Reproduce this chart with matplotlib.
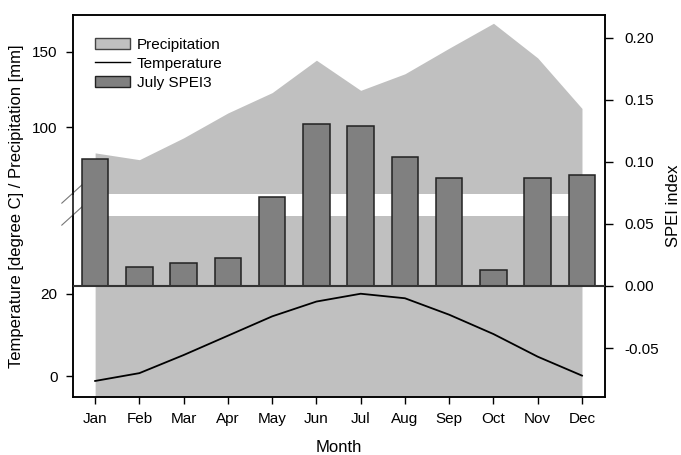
import numpy as np
import matplotlib
matplotlib.use('Agg')
import matplotlib.pyplot as plt
from matplotlib.patches import Patch
from matplotlib.lines import Line2D

plt.rcParams['font.family'] = ['Liberation Sans', 'DejaVu Sans']

# data
MONTHS = ['Jan', 'Feb', 'Mar', 'Apr', 'May', 'Jun',
          'Jul', 'Aug', 'Sep', 'Oct', 'Nov', 'Dec']
PRECIP = [83, 78.5, 93, 109.5, 123, 144.5, 124.5, 135.5, 152.5, 169, 146, 112.5]
TEMP = [-1.2, 0.7, 5.1, 9.8, 14.5, 18.1, 20.0, 18.9, 14.9, 10.2, 4.7, 0.1]
SPEI = [0.102, 0.0156, 0.0188, 0.0228, 0.072, 0.1304,
        0.129, 0.1043, 0.0869, 0.0129, 0.0871, 0.0898]

LEFT_TICKS = [0, 20, 100, 150]
RIGHT_TICKS = [-0.05, 0.0, 0.05, 0.10, 0.15, 0.20]

# broken left axis: lower part (temperature) and upper part (precipitation)
BRK_LO = 39.0     # top of lower segment
BRK_HI = 56.0     # bottom of upper segment
S_LO = 4.117      # px per unit, lower segment
S_HI = 1.508      # px per unit, upper segment
GAP = 22.0        # px of the white band
Y_MIN, Y_MAX = -5.1, 174.5
SPEI_MIN, SPEI_MAX = -0.0895, 0.2185

LIGHT = '#c0c0c0'
DARK = '#808080'
EDGE = '#222222'


def fwd(y):
    y = np.asarray(y, dtype=float)
    return np.where(y <= BRK_LO, (y - BRK_LO) * S_LO,
                    np.where(y >= BRK_HI, GAP + (y - BRK_HI) * S_HI,
                             (y - BRK_LO) / (BRK_HI - BRK_LO) * GAP))


def inv(v):
    v = np.asarray(v, dtype=float)
    return np.where(v <= 0, BRK_LO + v / S_LO,
                    np.where(v >= GAP, BRK_HI + (v - GAP) / S_HI,
                             BRK_LO + v / GAP * (BRK_HI - BRK_LO)))


x = np.arange(1, 13)

fig = plt.figure(figsize=(6.81, 4.55), dpi=100)
ax = fig.add_axes([73 / 681, 58 / 455, 532 / 681, 382 / 455])
ax.set_yscale('function', functions=(fwd, inv))
ax.set_ylim(Y_MIN, Y_MAX)
ax.set_xlim(0.5, 12.52)

# precipitation area, white band for the break, temperature line
ax.fill_between(x, Y_MIN, PRECIP, color=LIGHT, lw=0, zorder=1)
ax.axhspan(BRK_LO, BRK_HI, color='white', lw=0, zorder=2)
ax.plot(x, TEMP, color='black', lw=1.3, zorder=3)

ax.set_yticks(LEFT_TICKS)
ax.set_yticklabels([str(t) for t in LEFT_TICKS])
ax.set_xticks(x)
ax.set_xticklabels(MONTHS)
ax.tick_params(direction='out', length=5, width=1, labelsize=11, pad=6)
ax.set_xlabel('Month', fontsize=12, labelpad=10)
ax.set_ylabel('Temperature [degree C] / Precipitation [mm]', fontsize=12, labelpad=6)

# left spine with a gap and break marks
ax.spines['left'].set_visible(False)
tot = float(fwd(Y_MAX) - fwd(Y_MIN))
b_lo = float(-fwd(Y_MIN)) / tot
b_hi = float(GAP - fwd(Y_MIN)) / tot
ax.plot([0, 0], [0, b_lo], transform=ax.transAxes, color='black', lw=1.1, clip_on=False)
ax.plot([0, 0], [b_hi, 1], transform=ax.transAxes, color='black', lw=1.1, clip_on=False)
for yb in (b_lo, b_hi):
    ax.plot([-0.021, 0.017], [yb - 0.025, yb + 0.023], transform=ax.transAxes,
            color='#777777', lw=0.8, clip_on=False)

# SPEI bars on the right axis
ax2 = ax.twinx()
ax2.set_ylim(SPEI_MIN, SPEI_MAX)
ax2.bar(x, SPEI, width=0.6, color=DARK, edgecolor=EDGE, lw=1.1, zorder=3)
ax2.axhline(0, color='#333333', lw=1.5, zorder=4)
ax2.set_yticks(RIGHT_TICKS)
ax2.set_yticklabels(['%.2f' % t for t in RIGHT_TICKS])
ax2.tick_params(direction='out', length=6, width=1, labelsize=11, pad=8)
ax2.set_ylabel('SPEI index', fontsize=12, labelpad=5)

for a in (ax, ax2):
    for s in a.spines.values():
        s.set_linewidth(1.1)

handles = [Patch(facecolor=LIGHT, edgecolor='#444444', lw=1),
           Line2D([], [], color='black', lw=1),
           Patch(facecolor=DARK, edgecolor=EDGE, lw=1)]
ax2.legend(handles, ['Precipitation', 'Temperature', 'July SPEI3'],
           loc='upper left', bbox_to_anchor=(0.041, 0.94), frameon=False,
           fontsize=11, handlelength=2.3, handleheight=0.7,
           handletextpad=0.45, labelspacing=0.32, borderpad=0, borderaxespad=0)

fig.savefig('out.png', dpi=100)
